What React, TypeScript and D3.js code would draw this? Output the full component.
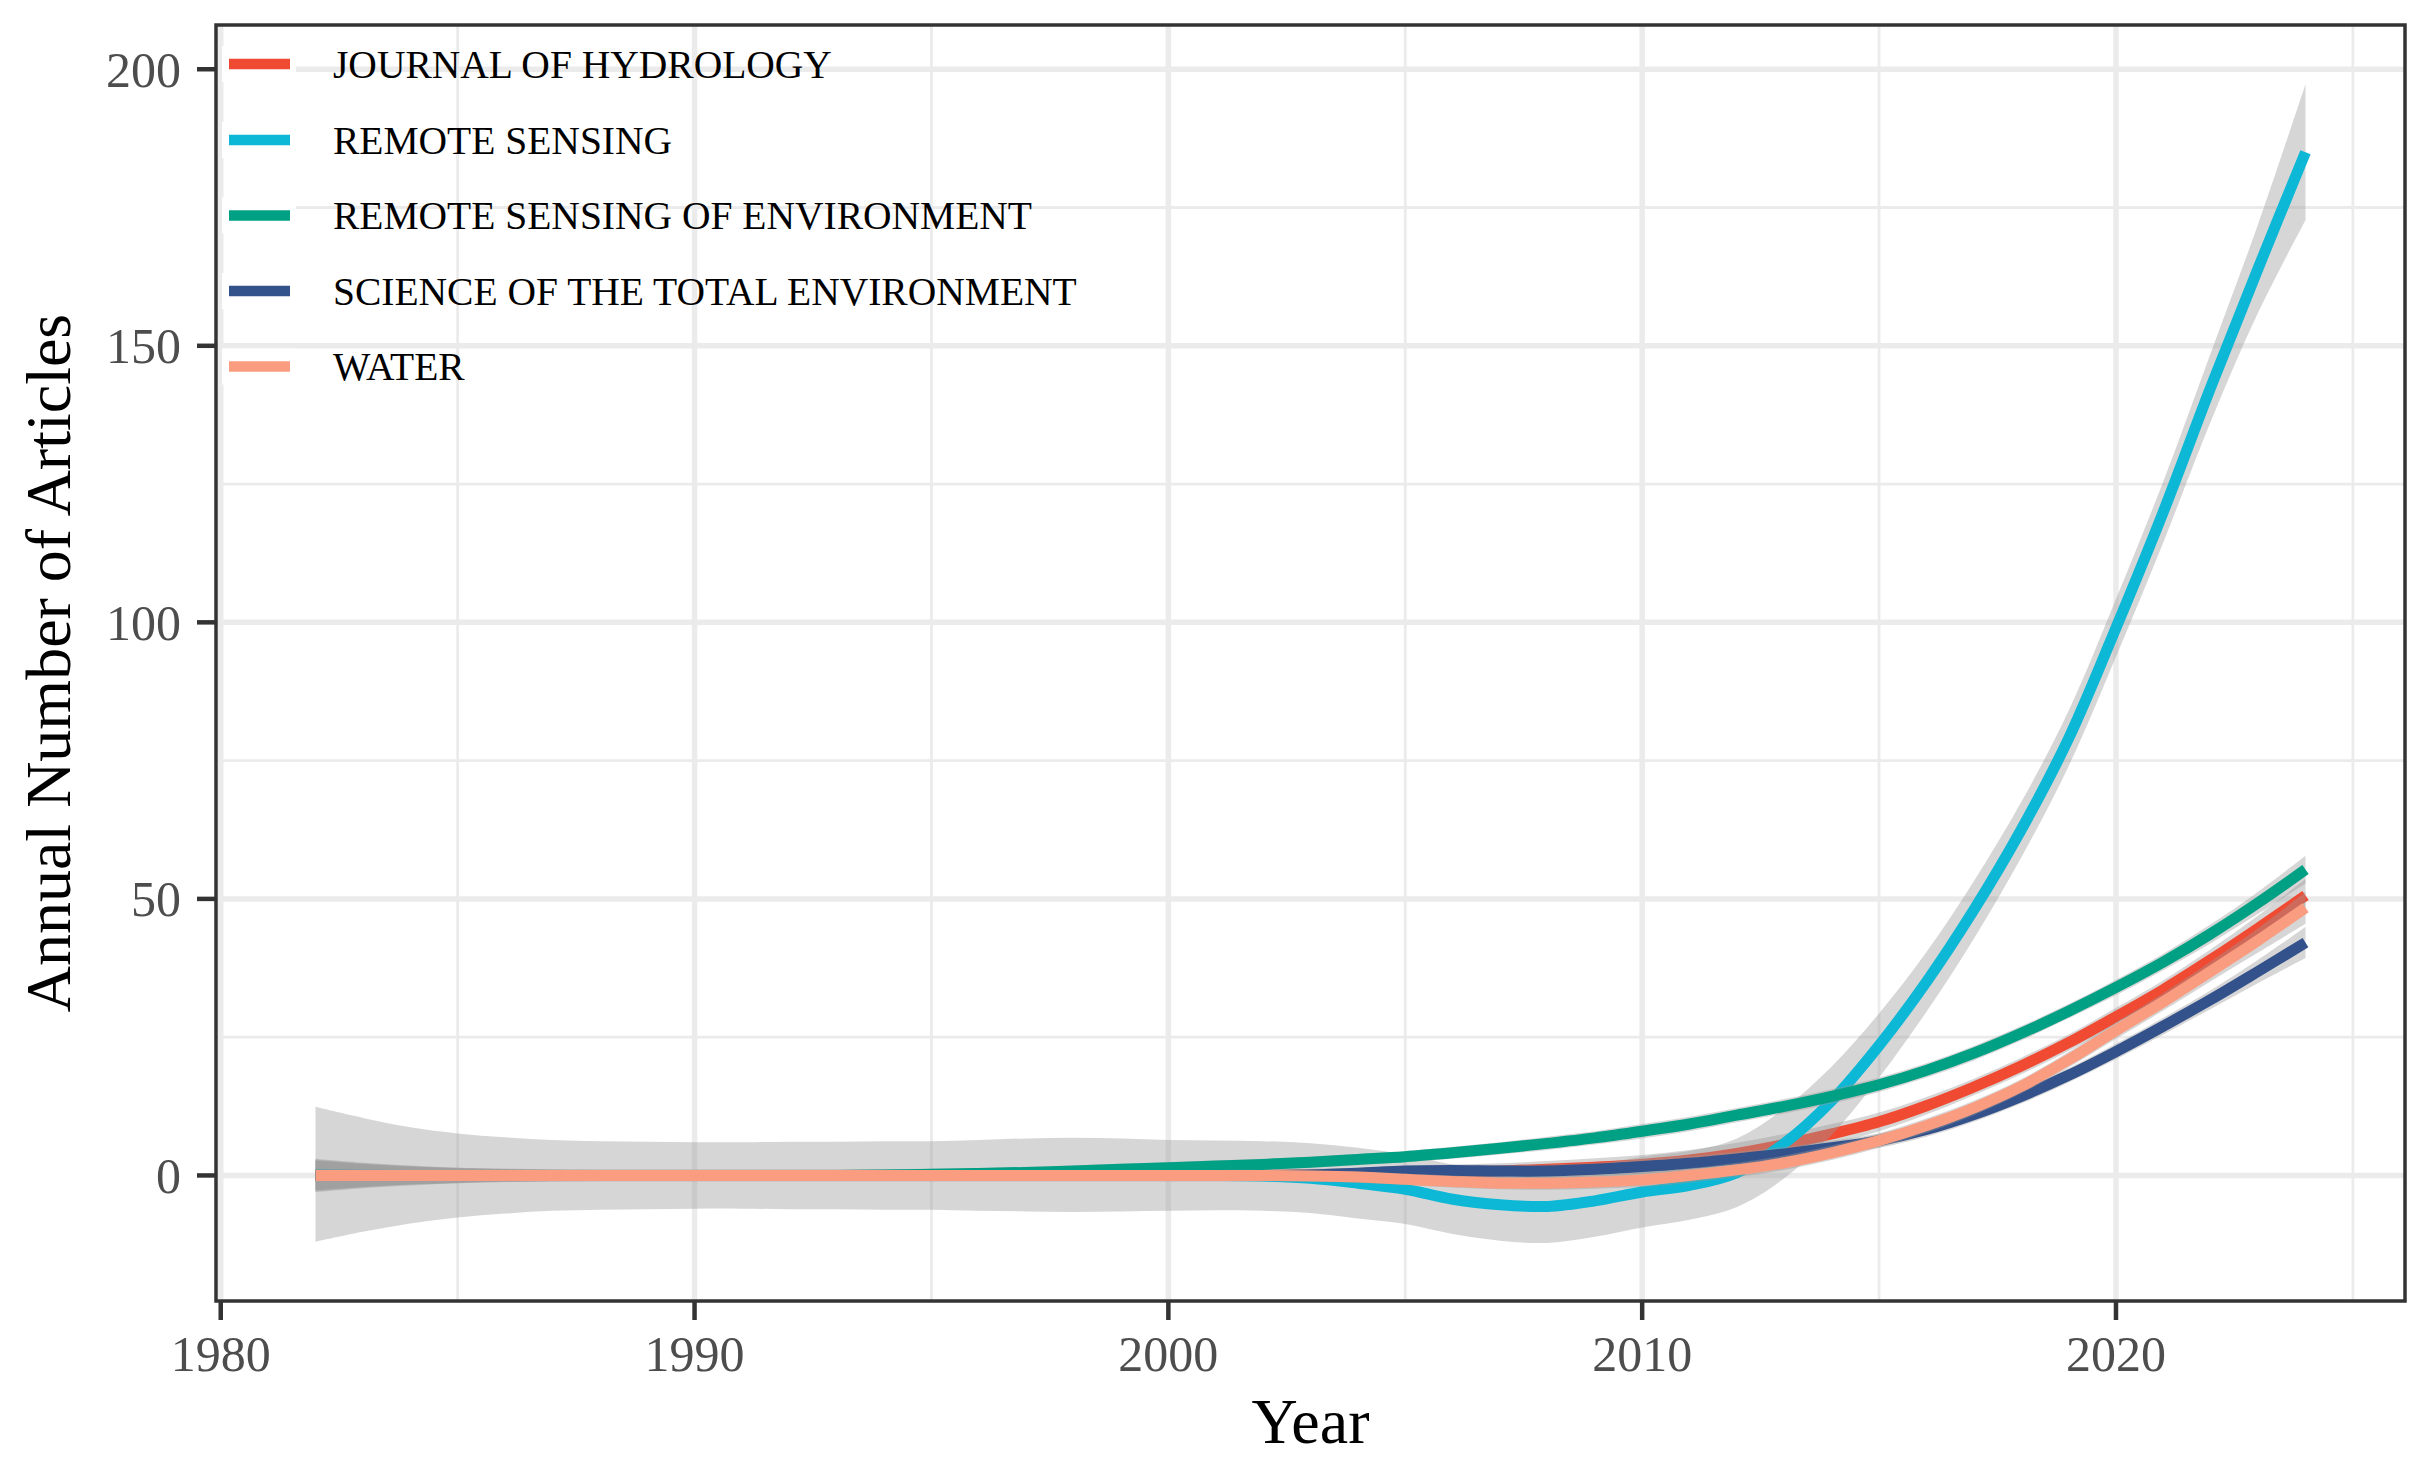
import React from "react";
import * as d3 from "d3";

const years: number[] = d3.range(1982, 2025);

const seriesNames = [
  "JOURNAL OF HYDROLOGY",
  "REMOTE SENSING",
  "REMOTE SENSING OF ENVIRONMENT",
  "SCIENCE OF THE TOTAL ENVIRONMENT",
  "WATER",
];
const seriesColors = ["#F04B32", "#0DB8D6", "#00A084", "#33518A", "#F99C80"];

// fitted values, 1982..2024
const fitJOH = [0,0,0,0,0,0,0,0,0,0,0,0,0,0,0,0,0,0,0,0,0,0.1,0.2,0.4,0.6,0.8,1.1,1.5,2.0,2.8,4.0,5.6,7.5,9.7,12.6,16.0,19.8,24.0,28.7,33.6,39.0,44.7,50.6];
const fitRS = [0.2,0.1,0,0,0,0,0,0,0,0,0,0,0,0,0,0.1,0.1,0.1,0,0,-0.1,-0.5,-1.4,-2.5,-4.3,-5.3,-5.6,-4.6,-3.0,-1.8,0.5,5.8,13.5,23.5,35.0,48.0,62.5,79.0,99.0,120.0,142.5,164.0,185.0];
const fitRSE = [0,0,0,0,0,0,0,0,0,0,0,0,0.1,0.2,0.35,0.55,0.8,1.1,1.4,1.7,2.0,2.4,2.9,3.4,4.1,4.9,5.8,6.8,8.0,9.3,10.9,12.5,14.3,16.4,19.0,22.1,25.7,29.7,34.0,38.6,43.7,49.3,55.3];
const fitSTE = [0,0,0,0,0,0,0,0,0,0,0,0,0,0,0,0,0,0,0,0,0,0.1,0.4,0.8,0.9,0.8,0.8,1.1,1.6,2.2,3.0,3.9,5.0,6.3,8.3,11.0,14.3,18.1,22.4,27.0,31.8,36.9,42.1];
const fitWATER = [0,0,0,0,0,0,0,0,0,0,0,0,0,0,0,0,0,0,0,0,0,-0.1,-0.3,-0.7,-1.1,-1.4,-1.4,-1.2,-0.8,0.0,1.0,2.3,4.1,6.3,9.0,12.2,16.1,20.9,26.2,31.4,36.9,42.5,48.4];

// confidence band half-widths, 1982..2024
const seJOH = [2.9,2.2,1.7,1.4,1.2,1.1,1.1,1.1,1.1,1.1,1.1,1.1,1.1,1.1,1.1,1.1,1.1,1.1,1.1,1.1,1.1,1.1,1.1,1.2,1.3,1.4,1.5,1.6,1.7,1.8,1.9,1.9,1.8,1.7,1.6,1.5,1.5,1.5,1.6,1.7,1.9,2.3,3.0];
const seRS = [12.2,10.3,8.7,7.6,6.9,6.4,6.2,6.1,6.0,6.0,6.1,6.1,6.2,6.2,6.4,6.6,6.7,6.6,6.4,6.3,6.3,6.3,6.4,6.3,6.3,6.5,6.6,6.5,6.4,6.2,6.2,6.3,6.2,5.8,5.4,5.2,5.0,5.0,5.2,5.5,6.2,8.0,12.3];
const seRSE = [3.0,2.3,1.8,1.4,1.2,1.1,1.0,1.0,1.0,1.0,1.0,1.0,1.0,1.0,1.0,1.0,1.0,1.0,1.0,1.0,1.0,1.0,1.0,1.0,1.1,1.1,1.2,1.2,1.3,1.3,1.3,1.3,1.3,1.3,1.3,1.3,1.3,1.3,1.4,1.5,1.7,2.0,2.5];
const seSTE = [2.6,2.0,1.6,1.3,1.1,1.0,1.0,1.0,1.0,1.0,1.0,1.0,1.0,1.0,1.0,1.0,1.0,1.0,1.0,1.0,1.0,1.0,1.0,1.0,1.1,1.1,1.2,1.2,1.3,1.3,1.3,1.3,1.3,1.3,1.3,1.3,1.3,1.3,1.4,1.5,1.7,2.1,2.8];
const seWATER = [2.7,2.1,1.6,1.3,1.1,1.0,1.0,1.0,1.0,1.0,1.0,1.0,1.0,1.0,1.0,1.0,1.0,1.0,1.0,1.0,1.0,1.0,1.0,1.0,1.1,1.1,1.2,1.2,1.3,1.3,1.3,1.3,1.3,1.3,1.3,1.3,1.3,1.4,1.5,1.6,1.8,2.2,2.9];

const fits = [fitJOH, fitRS, fitRSE, fitSTE, fitWATER];
const ses = [seJOH, seRS, seRSE, seSTE, seWATER];

const xMajor = [1980, 1990, 2000, 2010, 2020];
const xMinor = [1985, 1995, 2005, 2015, 2025];
const yMajor = [0, 50, 100, 150, 200];
const yMinor = [25, 75, 125, 175];

const W = 2420;
const H = 1470;
const panel = { left: 216, right: 2405, top: 25, bottom: 1301 };
const FONT = "'Liberation Serif', 'Times New Roman', Times, serif";

export default function App() {
  const x = d3.scaleLinear().domain([1979.9, 2026.1]).range([panel.left, panel.right]);
  const y = d3.scaleLinear().domain([-22.7, 208.0]).range([panel.bottom, panel.top]);

  const curve = d3.curveCatmullRom.alpha(0.5);
  const line = d3
    .line<[number, number]>()
    .x((d) => x(d[0]))
    .y((d) => y(d[1]))
    .curve(curve);
  const area = d3
    .area<[number, number, number]>()
    .x((d) => x(d[0]))
    .y0((d) => y(d[1] - d[2]))
    .y1((d) => y(d[1] + d[2]))
    .curve(curve);

  const legendY = [64, 140, 215.5, 291, 366.5];

  return (
    <svg
      width={W}
      height={H}
      viewBox={`0 0 ${W} ${H}`}
      style={{ position: "absolute", left: 0, top: 0, display: "block", background: "#fff" }}
    >
      <rect x={0} y={0} width={W} height={H} fill="#ffffff" />
      {/* grid */}
      <g>
        {yMinor.map((v) => (
          <line key={"ym" + v} x1={panel.left} x2={panel.right} y1={y(v)} y2={y(v)} stroke="#EBEBEB" strokeWidth={2.8} />
        ))}
        {xMinor.map((v) => (
          <line key={"xm" + v} x1={x(v)} x2={x(v)} y1={panel.top} y2={panel.bottom} stroke="#EBEBEB" strokeWidth={2.8} />
        ))}
        {yMajor.map((v) => (
          <line key={"yM" + v} x1={panel.left} x2={panel.right} y1={y(v)} y2={y(v)} stroke="#EBEBEB" strokeWidth={5.5} />
        ))}
        {xMajor.map((v) => (
          <line key={"xM" + v} x1={x(v)} x2={x(v)} y1={panel.top} y2={panel.bottom} stroke="#EBEBEB" strokeWidth={5.5} />
        ))}
      </g>
      {/* smooths */}
      <g>
        {fits.map((f, i) => {
          const band: [number, number, number][] = years.map((yr, j) => [yr, f[j], ses[i][j]]);
          const pts: [number, number][] = years.map((yr, j) => [yr, f[j]]);
          return (
            <g key={seriesNames[i]}>
              <path d={area(band) || ""} fill="#999999" fillOpacity={0.4} stroke="none" />
              <path d={line(pts) || ""} fill="none" stroke={seriesColors[i]} strokeWidth={11} />
            </g>
          );
        })}
      </g>
      {/* panel border */}
      <rect
        x={panel.left}
        y={panel.top}
        width={panel.right - panel.left}
        height={panel.bottom - panel.top}
        fill="none"
        stroke="#333333"
        strokeWidth={3.5}
      />
      {/* y axis */}
      <g>
        {yMajor.map((v) => (
          <g key={"yt" + v}>
            <line x1={panel.left - 19} x2={panel.left} y1={y(v)} y2={y(v)} stroke="#333333" strokeWidth={4.5} />
            <text
              x={panel.left - 35}
              y={y(v)}
              dy="0.35em"
              textAnchor="end"
              fontFamily={FONT}
              fontSize={50}
              fill="#4D4D4D"
            >
              {v}
            </text>
          </g>
        ))}
      </g>
      {/* x axis */}
      <g>
        {xMajor.map((v) => (
          <g key={"xt" + v}>
            <line x1={x(v)} x2={x(v)} y1={panel.bottom} y2={panel.bottom + 19} stroke="#333333" strokeWidth={4.5} />
            <text x={x(v)} y={1371} textAnchor="middle" fontFamily={FONT} fontSize={50} fill="#4D4D4D">
              {v}
            </text>
          </g>
        ))}
      </g>
      {/* axis titles */}
      <text x={(panel.left + panel.right) / 2} y={1443} textAnchor="middle" fontFamily={FONT} fontSize={64} fill="#000">
        Year
      </text>
      <text
        transform={`translate(70, ${(panel.top + panel.bottom) / 2}) rotate(-90)`}
        textAnchor="middle"
        fontFamily={FONT}
        fontSize={64}
        fill="#000"
      >
        Annual Number of Articles
      </text>
      {/* legend */}
      <g>
        {seriesNames.map((name, i) => (
          <g key={"lg" + name}>
            <rect x={222} y={legendY[i] - 18} width={74} height={36} fill="#ffffff" />
            <line x1={229} x2={290} y1={legendY[i]} y2={legendY[i]} stroke={seriesColors[i]} strokeWidth={10.5} />
            <text x={333} y={legendY[i] + 13.5} fontFamily={FONT} fontSize={39.5} fill="#000">
              {name}
            </text>
          </g>
        ))}
      </g>
    </svg>
  );
}
